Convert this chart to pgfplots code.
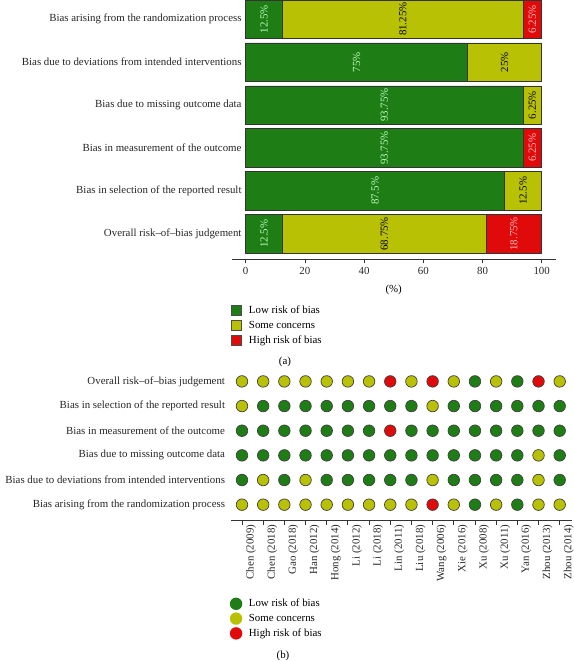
\documentclass[border=0pt]{standalone}
\usepackage{fontspec}
\setmainfont{Liberation Serif}
\usepackage{pgfplots}
\pgfplotsset{compat=1.18}
\definecolor{cLow}{HTML}{1E7D14}
\definecolor{cSome}{HTML}{B8C104}
\definecolor{cHigh}{HTML}{E00A0A}
\definecolor{axgray}{HTML}{333333}
\begin{document}
\begin{tikzpicture}[font=\fontsize{10.9}{12.5}\selectfont]
\useasboundingbox (0,0) rectangle (574bp,661bp);
% ---------------- Panel A ----------------
\begin{axis}[
  at={(231.7bp,401.7bp)}, anchor=south west,
  scale only axis, width=324bp, height=259.3bp,
  xmin=-4.73, xmax=104.73, ymin=-0.595, ymax=5.448,
  xbar stacked, bar width=38.3bp,
  axis x line*=bottom, axis y line*=left,
  y axis line style={draw=none},
  x axis line style={axgray, line width=0.8pt},
  xtick={0,20,...,100}, xtick align=outside,
  major tick length=4bp,
  xtick style={axgray, line width=0.8pt},
  ytick={0,...,5}, ytick style={draw=none},
  yticklabels={Overall risk--of--bias judgement, Bias in selection of the reported result, Bias in measurement of the outcome, Bias due to missing outcome data, Bias due to deviations from intended interventions, Bias arising from the randomization process},
  yticklabel style={anchor=east, inner sep=0pt, xshift=10bp, text=black!85},
  xticklabel style={inner sep=1bp, yshift=-3bp, text=black!85},
  /pgf/number format/assume math mode=true,
  xlabel={(\%)},
  xlabel style={inner sep=0pt, yshift=-9bp},
  legend style={at={(axis description cs:-0.002,-0.172)}, anchor=north west, draw=none, fill=none, inner sep=0pt, row sep=2.8bp, nodes={inner sep=1.6bp}},
  legend cell align=left,
  legend image code/.code={\draw[#1, draw=black!70, line width=0.7pt] (0bp,-4.8bp) rectangle (9.6bp,4.8bp); \path[draw=none, fill=none] (0bp,0bp) -- (15.8bp,0bp);},
]
\addplot[fill=cLow, draw=black!80, line width=0.6pt] coordinates {(12.5,0) (87.5,1) (93.75,2) (93.75,3) (75,4) (12.5,5)};
\addplot[fill=cSome, draw=black!80, line width=0.6pt] coordinates {(68.75,0) (12.5,1) (0,2) (6.25,3) (25,4) (81.25,5)};
\addplot[fill=cHigh, draw=black!80, line width=0.6pt] coordinates {(18.75,0) (0,1) (6.25,2) (0,3) (0,4) (6.25,5)};
\legend{Low risk of bias, Some concerns, High risk of bias}
\end{axis}
% labels inside bars
\begin{axis}[
  at={(231.7bp,401.7bp)}, anchor=south west,
  scale only axis, width=324bp, height=259.3bp,
  xmin=-4.73, xmax=104.73, ymin=-0.595, ymax=5.448,
  hide axis, clip=false,
]
\addplot[draw=none, mark=none, nodes near coords, point meta=explicit symbolic,
  every node near coord/.append style={rotate=90, anchor=center, inner sep=0pt, text=green!25!white}]
  coordinates {(6.25,0) [12.5\%] (43.75,1) [87.5\%] (46.875,2) [93.75\%] (46.875,3) [93.75\%] (37.5,4) [75\%] (6.25,5) [12.5\%]};
\addplot[draw=none, mark=none, nodes near coords, point meta=explicit symbolic,
  every node near coord/.append style={rotate=90, anchor=center, inner sep=0pt, text=black}]
  coordinates {(46.875,0) [68.75\%] (93.75,1) [12.5\%] (96.875,3) [6.25\%] (87.5,4) [25\%] (53.125,5) [81.25\%]};
\addplot[draw=none, mark=none, nodes near coords, point meta=explicit symbolic,
  every node near coord/.append style={rotate=90, anchor=center, inner sep=0pt, text=red!25!white}]
  coordinates {(90.625,0) [18.75\%] (96.875,2) [6.25\%] (96.875,5) [6.25\%]};
\end{axis}
\node at (285bp,299.3bp) {(a)};
% ---------------- Panel B ----------------
\begin{axis}[
  at={(231.4bp,140.3bp)}, anchor=south west,
  scale only axis, width=341bp, height=151.6bp,
  xmin=0.5, xmax=16.6, ymin=0.35, ymax=6.5,
  axis x line*=bottom, axis y line*=left,
  y axis line style={draw=none}, ytick style={draw=none},
  x axis line style={axgray, line width=0.8pt},
  xtick={1,...,16}, xtick align=outside, major tick length=4bp,
  xtick style={axgray, line width=0.8pt},
  xticklabels={Chen (2009), Chen (2018), Gao (2018), Han (2012), Hong (2014), Li (2012), Li (2018), Lin (2011), Liu (2018), Wang (2006), Xie (2016), Xu (2008), Xu (2011), Yan (2016), Zhou (2013), Zhou (2014)},
  xticklabel style={rotate=90, anchor=east, inner sep=0pt, yshift=-9bp, text=black!85},
  ytick={1,...,6},
  yticklabels={Bias arising from the randomization process, Bias due to deviations from intended interventions, Bias due to missing outcome data, Bias in measurement of the outcome, Bias in selection of the reported result, Overall risk--of--bias judgement},
  yticklabel style={anchor=east, inner sep=0pt, xshift=-6.2bp, text=black!85},
  clip=false,
  legend style={at={(axis description cs:-0.005,-0.506)}, anchor=north west, draw=none, fill=none, inner sep=0pt, row sep=2.4bp, nodes={inner sep=1.6bp}},
  legend cell align=left,
  legend image code/.code={\fill[#1, draw=none] (6bp,0bp) circle (6.2bp); \path[draw=none, fill=none] (0bp,0bp) -- (17.2bp,0bp);},
]
\addplot[only marks, mark=*, mark size=5.8pt, color=cLow, fill=cLow, mark options={fill=cLow, draw=black!75, line width=0.7pt}] coordinates {
(12,6) (14,6)
(2,5) (3,5) (4,5) (5,5) (6,5) (7,5) (8,5) (9,5) (11,5) (12,5) (13,5) (14,5) (15,5) (16,5)
(1,4) (2,4) (3,4) (4,4) (5,4) (6,4) (7,4) (9,4) (10,4) (11,4) (12,4) (13,4) (14,4) (15,4) (16,4)
(1,3) (2,3) (3,3) (4,3) (5,3) (6,3) (7,3) (8,3) (9,3) (10,3) (11,3) (12,3) (13,3) (14,3) (16,3)
(1,2) (3,2) (5,2) (6,2) (7,2) (8,2) (9,2) (11,2) (12,2) (13,2) (14,2) (16,2)
(12,1) (14,1)};
\addplot[only marks, mark=*, mark size=5.8pt, color=cSome, fill=cSome, mark options={fill=cSome, draw=black!75, line width=0.7pt}] coordinates {
(1,6) (2,6) (3,6) (4,6) (5,6) (6,6) (7,6) (9,6) (11,6) (13,6) (16,6)
(1,5) (10,5)
(15,3)
(2,2) (4,2) (10,2) (15,2)
(1,1) (2,1) (3,1) (4,1) (5,1) (6,1) (7,1) (8,1) (9,1) (11,1) (13,1) (15,1) (16,1)};
\addplot[only marks, mark=*, mark size=5.8pt, color=cHigh, fill=cHigh, mark options={fill=cHigh, draw=black!75, line width=0.7pt}] coordinates {
(8,6) (10,6) (15,6)
(8,4)
(10,1)};
\legend{Low risk of bias, Some concerns, High risk of bias}
\end{axis}
\node at (283bp,5bp) {(b)};
\end{tikzpicture}
\end{document}
